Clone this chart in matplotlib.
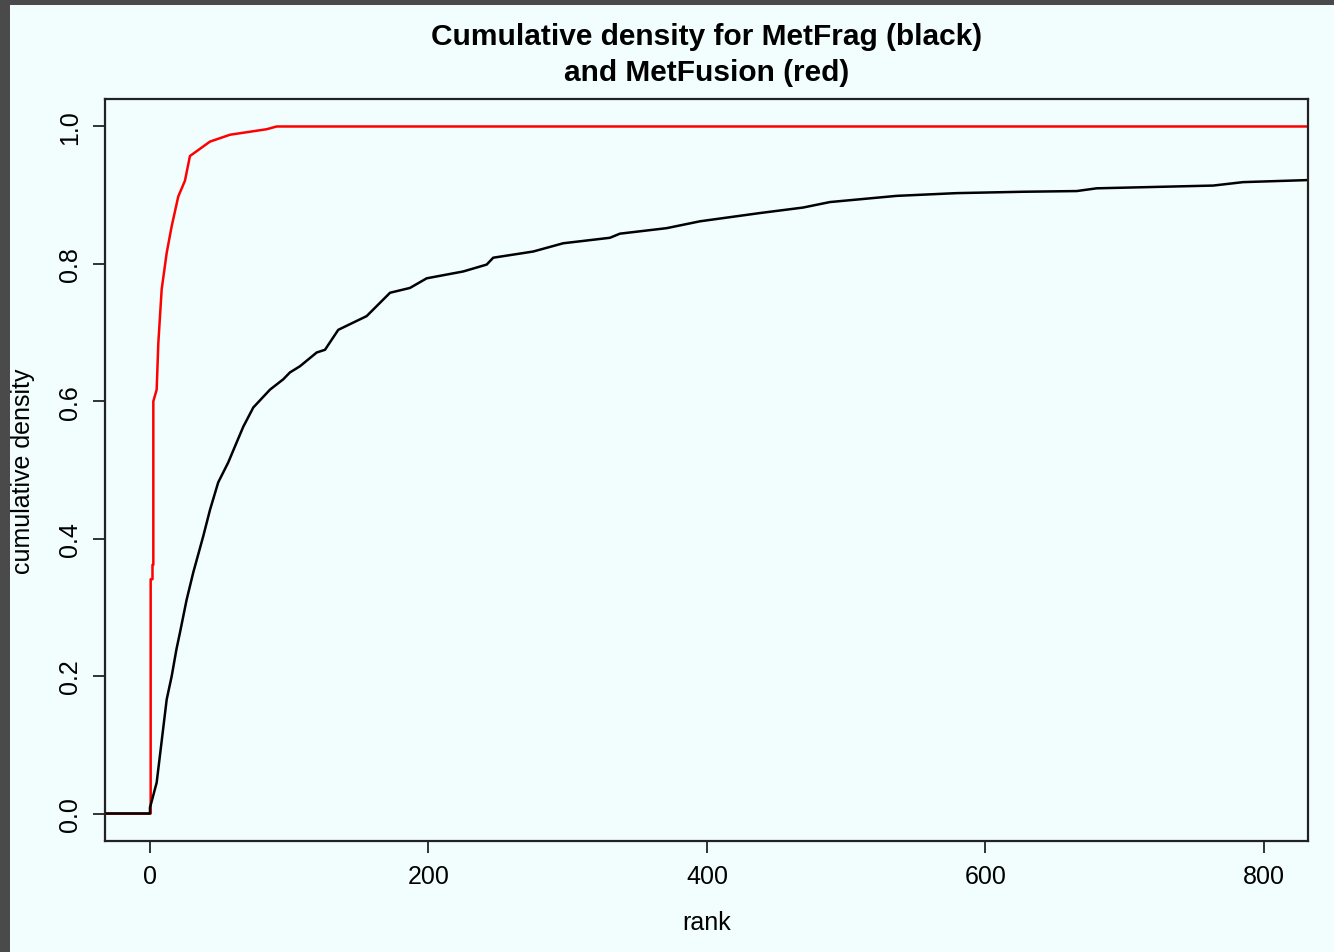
import numpy as np
import matplotlib.pyplot as plt

# ECDF of the rank for the two methods
metfrag_rank = [-32.3, 0, 0, 1, 4.8, 12, 15.6, 19, 21.5, 26.3, 31.1, 38.3, 43.1, 49,
                56.2, 62.2, 67, 74.2, 86.2, 95.7, 100.5, 107.7, 119.7, 125.7, 135.2,
                155.6, 172.4, 186.7, 198.7, 225, 241.8, 246.5, 275.2, 296.7, 330.3,
                337.5, 371, 395, 438, 469, 488.3, 536.2, 579.3, 627.2, 665.5, 679.8,
                763.5, 785, 831.6]
metfrag_cd = [0, 0, 0.009, 0.016, 0.045, 0.166, 0.2, 0.239, 0.263, 0.311, 0.351, 0.404,
              0.442, 0.482, 0.511, 0.540, 0.563, 0.591, 0.617, 0.632, 0.642, 0.651,
              0.671, 0.675, 0.704, 0.724, 0.758, 0.765, 0.779, 0.789, 0.799, 0.809,
              0.818, 0.830, 0.838, 0.844, 0.852, 0.862, 0.874, 0.882, 0.890, 0.899,
              0.903, 0.905, 0.906, 0.910, 0.914, 0.919, 0.922]

metfusion_rank = [-32.3, 0.5, 0.5, 1.8, 1.8, 2.4, 2.4, 4.8, 6, 8.4, 12, 15.6, 20.3,
                  25.1, 28.7, 33.5, 43.1, 57.5, 83.8, 91, 831.6]
metfusion_cd = [0, 0, 0.341, 0.341, 0.362, 0.362, 0.600, 0.617, 0.685, 0.763, 0.816,
                0.855, 0.898, 0.921, 0.957, 0.964, 0.978, 0.988, 0.996, 1.0, 1.0]

xticks = [0, 200, 400, 600, 800]
yticks = [0.0, 0.2, 0.4, 0.6, 0.8, 1.0]

plt.rcParams['font.family'] = ['Liberation Sans', 'DejaVu Sans']

fig = plt.figure(figsize=(13.34, 9.53), dpi=100)
fig.patch.set_facecolor('#4a4a4a')
bg = plt.Rectangle((10/1334, 0), 1, 1 - 6/953, transform=fig.transFigure,
                   facecolor='#f2fefe', edgecolor='none', zorder=-10)
fig.add_artist(bg)

ax = fig.add_axes([105/1334, 1 - 842/953, 1203/1334, 742/953])
ax.set_zorder(5)
ax.set_facecolor('#f2fefe')

ax.plot(metfusion_rank, metfusion_cd, color='#ff0000', lw=1.8)
ax.plot(metfrag_rank, metfrag_cd, color='black', lw=1.8)

ax.set_xlim(-32.3, 831.6)
ax.set_ylim(-0.04, 1.04)
ax.set_xticks(xticks)
ax.set_yticks(yticks)
ax.set_xticklabels([str(t) for t in xticks])
ax.set_yticklabels(['%.1f' % t for t in yticks], rotation=90, va='center')

for s in ax.spines.values():
    s.set_linewidth(1.6)
    s.set_color('#222222')
ax.tick_params(length=8.6, width=1.3, color='#222222', labelsize=18, pad=8)

ax.set_xlabel('rank', fontsize=18)
ax.xaxis.set_label_coords(0.5, -0.093)
ax.set_ylabel('cumulative density', fontsize=18)
ax.yaxis.set_label_coords(-0.058, 0.5)

fig.text(707/1334, 1 - 55/953, 'Cumulative density for MetFrag (black)\nand MetFusion (red)',
         ha='center', va='center', fontsize=21.5, fontweight='bold', linespacing=1.35)

fig.savefig('out.png', dpi=100, facecolor=fig.get_facecolor())
